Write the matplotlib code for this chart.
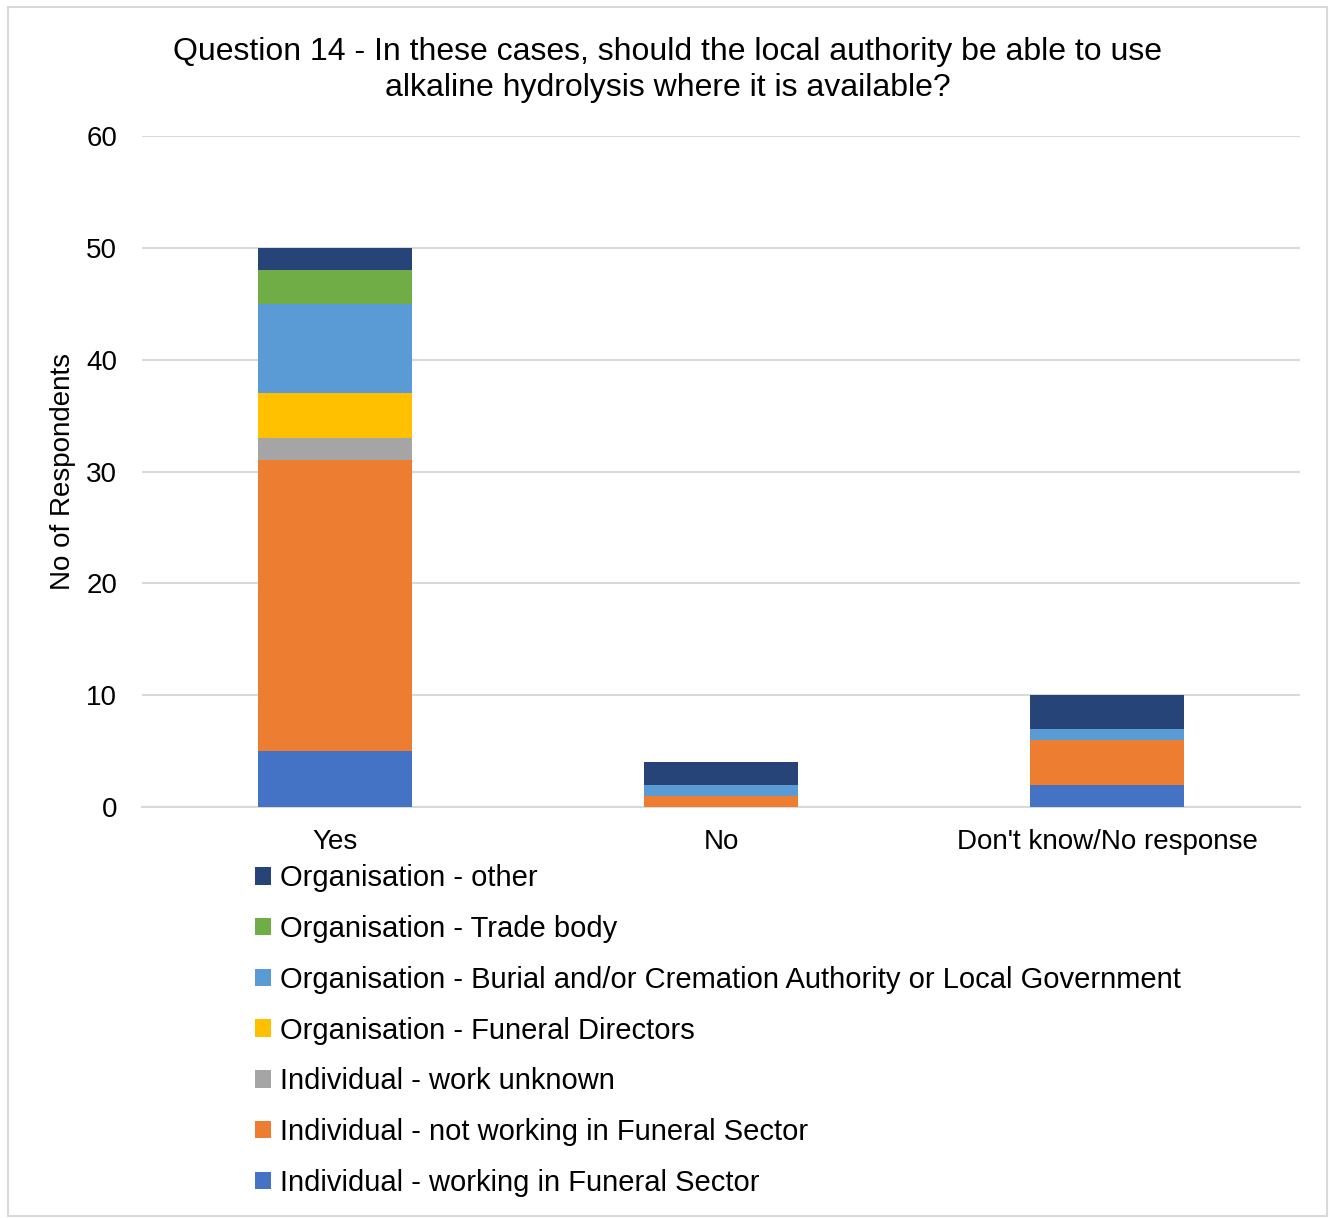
import matplotlib.pyplot as plt
from matplotlib.patches import Rectangle
import numpy as np

plt.rcParams['font.family'] = ['Liberation Sans', 'DejaVu Sans']

categories = ["Yes", "No", "Don't know/No response"]
series_names = [
    "Individual - working in Funeral Sector",
    "Individual - not working in Funeral Sector",
    "Individual - work unknown",
    "Organisation - Funeral Directors",
    "Organisation - Burial and/or Cremation Authority or Local Government",
    "Organisation - Trade body",
    "Organisation - other",
]
ind_funeral = [5, 0, 2]
ind_not_funeral = [26, 1, 4]
ind_unknown = [2, 0, 0]
org_funeral_dir = [4, 0, 0]
org_burial_la = [8, 1, 1]
org_trade = [3, 0, 0]
org_other = [2, 2, 3]
colors = ["#4472C4", "#ED7D31", "#A5A5A5", "#FFC000", "#5B9BD5", "#70AD47", "#264478"]

series = [ind_funeral, ind_not_funeral, ind_unknown, org_funeral_dir,
          org_burial_la, org_trade, org_other]

fig = plt.figure(figsize=(13.35, 12.18), dpi=100)
ax = fig.add_axes([0.1064, 0.3374, 0.8674, 0.5509])

x = np.arange(len(categories))
bottom = np.zeros(len(categories))
handles = []
for name, vals, col in zip(series_names, series, colors):
    b = ax.bar(x, vals, 0.4, bottom=bottom, color=col, label=name, zorder=3)
    handles.append(b)
    bottom += np.array(vals)

ax.set_xlim(-0.5, 2.5)
ax.set_ylim(0, 60)
ax.set_yticks(range(0, 61, 10))
ax.yaxis.grid(True, color="#D9D9D9", linewidth=1.5, zorder=0)
for s in ["top", "right", "left"]:
    ax.spines[s].set_visible(False)
ax.spines["bottom"].set_color("#D9D9D9")
ax.spines["bottom"].set_linewidth(1.5)
ax.tick_params(axis="both", length=0, labelsize=20, colors="#000000")
ax.tick_params(axis="y", pad=18)
ax.tick_params(axis="x", pad=16)
ax.set_xticks(x)
ax.set_xticklabels(categories, fontsize=20)
ax.set_ylabel("No of Respondents", fontsize=20, labelpad=7)

fig.text(0.5, 0.970, "Question 14 - In these cases, should the local authority be able to use\n"
         "alkaline hydrolysis where it is available?",
         ha="center", va="top", fontsize=23, linespacing=1.3)

fig.legend(handles[::-1], series_names[::-1], loc="upper left",
           bbox_to_anchor=(0.1825, 0.300), frameon=False, fontsize=21,
           handlelength=0.55, handleheight=0.55, handletextpad=0.3,
           labelspacing=0.78, borderaxespad=0)

# light frame round the chart area
fig.patches.append(Rectangle((0.006, 0.002), 0.988, 0.992, transform=fig.transFigure,
                             fill=False, edgecolor="#D9D9D9", linewidth=1.5))

fig.savefig("out.png", dpi=100, facecolor="white")
